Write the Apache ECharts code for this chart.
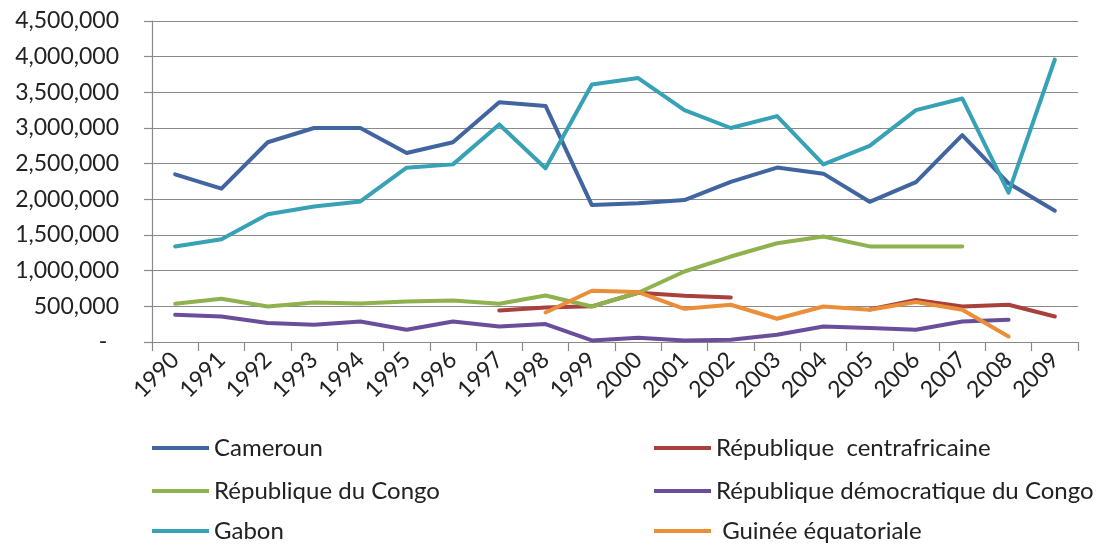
<!DOCTYPE html>
<html>
<head>
<meta charset="utf-8">
<script src="https://cdn.jsdelivr.net/npm/echarts@6/dist/echarts.min.js"></script>
<style>
html,body{margin:0;padding:0;background:#fff;}
#chart{width:1104px;height:546px;}
</style>
</head>
<body>
<div id="chart"></div>
<script>
const years = ['1990','1991','1992','1993','1994','1995','1996','1997','1998','1999','2000','2001','2002','2003','2004','2005','2006','2007','2008','2009'];
const yTicks = [0, 500000, 1000000, 1500000, 2000000, 2500000, 3000000, 3500000, 4000000, 4500000];

const cameroun = [2350000, 2150000, 2800000, 3000000, 3000000, 2650000, 2800000, 3360000, 3310000, 1920000, 1945000, 1990000, 2245000, 2445000, 2360000, 1965000, 2240000, 2900000, 2225000, 1840000];
const centrafrique = [null, null, null, null, null, null, null, 442000, 485000, 500000, 690000, 648000, 624000, null, null, 455000, 590000, 498000, 522000, 358000];
const congo = [536000, 606000, 498000, 555000, 540000, 568000, 582000, 536000, 652000, 498000, 690000, 988000, 1198000, 1385000, 1478000, 1340000, 1340000, 1340000, null, null];
const rdc = [382000, 358000, 266000, 242000, 288000, 172000, 288000, 218000, 252000, 22000, 60000, 22000, 30000, 102000, 218000, 196000, 172000, 288000, 312000, null];
const gabon = [1340000, 1440000, 1790000, 1900000, 1970000, 2443000, 2490000, 3050000, 2435000, 3610000, 3700000, 3250000, 3000000, 3167000, 2490000, 2750000, 3250000, 3414000, 2093000, 3960000];
const guinee = [null, null, null, null, null, null, null, null, 414000, 718000, 700000, 466000, 522000, 326000, 498000, 452000, 560000, 452000, 78000, null];

const names = ['Cameroun', 'République  centrafricaine', 'République du Congo', 'République démocratique du Congo', 'Gabon', 'Guinée équatoriale'];
const colors = ['#4165A0', '#A9403B', '#8DB24E', '#6B4E9B', '#37A1B5', '#EB8E3A'];
const seriesData = [cameroun, centrafrique, congo, rdc, gabon, guinee];

const legendCols = [152, 654, 152, 654, 152, 654];
const legendRows = [436, 436, 479, 479, 519, 519];

const FONT = 'Lato';
const chart = echarts.init(document.getElementById('chart'), null, {renderer: 'canvas'});

const legends = names.map(function (n, i) {
  return {
    orient: 'horizontal',
    left: legendCols[i],
    top: legendRows[i],
    padding: 0,
    icon: 'rect',
    itemWidth: 57,
    itemHeight: 4,
    textStyle: {fontFamily: FONT, fontSize: 24, color: '#222'},
    data: [n],
    formatter: function (t) { return t === 'Guinée équatoriale' ? ' ' + t : t; }
  };
});

const option = {
  backgroundColor: '#fff',
  animation: false,
  color: colors,
  grid: {left: 152, right: 26, top: 21, bottom: 204, containLabel: false},
  legend: legends,
  xAxis: {
    type: 'category',
    data: years,
    boundaryGap: true,
    axisLine: {show: true, lineStyle: {color: '#8a8a8a', width: 1.2}},
    axisTick: {show: true, length: 9, lineStyle: {color: '#8a8a8a', width: 1.2}},
    axisLabel: {rotate: 45, margin: 14, fontFamily: FONT, fontSize: 23, color: '#222', interval: 0},
    splitLine: {show: false}
  },
  yAxis: {
    type: 'value',
    min: yTicks[0],
    max: yTicks[yTicks.length - 1],
    interval: yTicks[1] - yTicks[0],
    axisLine: {show: true, lineStyle: {color: '#8a8a8a', width: 1.2}},
    axisTick: {show: true, length: 8, lineStyle: {color: '#8a8a8a', width: 1.2}},
    axisLabel: {
      margin: 33,
      fontFamily: FONT, fontSize: 23, color: '#222',
      formatter: function (v) { return v === 0 ? '-  ' : v.toLocaleString('en-US'); }
    },
    splitLine: {show: true, lineStyle: {color: '#8a8a8a', width: 1.2}}
  },
  series: seriesData.map(function (d, i) {
    return {
      name: names[i],
      type: 'line',
      data: d,
      showSymbol: false,
      symbol: 'none',
      connectNulls: false,
      lineStyle: {width: 4, color: colors[i], join: 'round', cap: 'round'},
      itemStyle: {color: colors[i]}
    };
  })
};
chart.setOption(option);
</script>
</body>
</html>
